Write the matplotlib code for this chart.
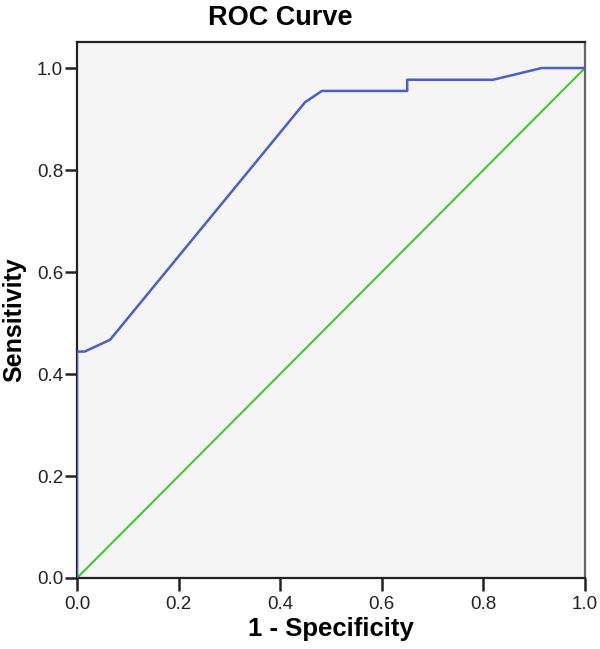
import matplotlib
matplotlib.use("Agg")
import matplotlib.pyplot as plt

plt.rcParams['font.family'] = ['Liberation Sans', 'DejaVu Sans']

fpr = [0.0, 0.0, 0.015, 0.065, 0.449, 0.482, 0.650, 0.650, 0.819, 0.915, 1.0]
tpr = [0.0, 0.444, 0.444, 0.467, 0.933, 0.955, 0.955, 0.977, 0.977, 1.0, 1.0]
ref_x = [0.0, 1.0]
ref_y = [0.0, 1.0]
ticks = [0.0, 0.2, 0.4, 0.6, 0.8, 1.0]
tick_labels = ['0.0', '0.2', '0.4', '0.6', '0.8', '1.0']

fig = plt.figure(figsize=(6.0, 6.49), dpi=100)
ax = fig.add_axes([77/600, 1-578/649, (585-77)/600, (578-42)/649])
ax.set_facecolor('#f5f5f5')

ax.plot(ref_x, ref_y, color='#44c831', lw=1.5, zorder=2)
ax.plot(fpr, tpr, color='#4e5fc4', lw=1.8, zorder=3)

ax.set_xlim(0, 1.0)
ax.set_ylim(0, 1.051)
ax.set_xticks(ticks)
ax.set_xticklabels(tick_labels)
ax.set_yticks(ticks)
ax.set_yticklabels(tick_labels)
ax.tick_params(axis='both', direction='out', length=9, width=1.8, labelsize=13.5,
               color='#222222', labelcolor='#222222', pad=1)
ax.tick_params(axis='x', pad=4)
for s in ax.spines.values():
    s.set_linewidth(1.6)
    s.set_color('#222222')
ax.spines['right'].set_color('#666666')

ax.set_xlabel('1 - Specificity', fontsize=18.5, fontweight='bold', labelpad=3)
ax.set_ylabel('Sensitivity', fontsize=18, fontweight='bold')
ax.yaxis.set_label_coords(-0.100, 0.481)
ax.set_title('ROC Curve', fontsize=19.5, fontweight='bold', pad=12)
ax.title.set_x(0.40)

fig.savefig('out.png', dpi=100, facecolor='white')
